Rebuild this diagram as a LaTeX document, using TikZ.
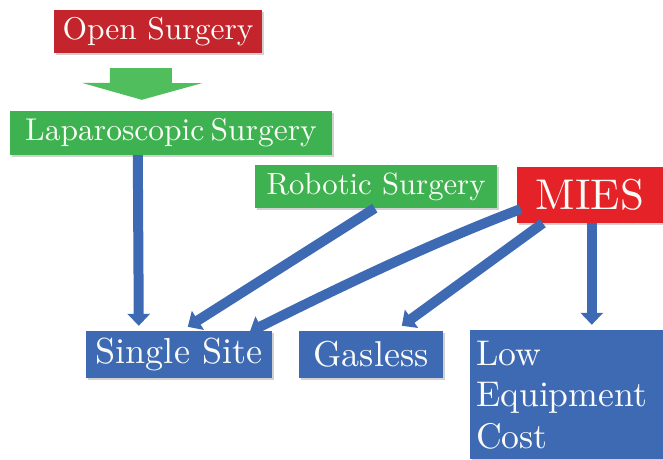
\documentclass[tikz,border=0pt]{standalone}
\usetikzlibrary{arrows.meta,shadows,calc}

\definecolor{opred}{RGB}{196,36,44}
\definecolor{miesred}{RGB}{228,34,40}
\definecolor{lapgreen}{RGB}{62,178,80}
\definecolor{arrgreen}{RGB}{80,190,92}
\definecolor{boxblue}{RGB}{62,106,180}
\definecolor{txt}{RGB}{250,250,246}

% text set in the 10pt design and enlarged
\newcommand\enlarged[2]{\scalebox{#1}{\fontsize{10}{11.6}\selectfont #2}}

\tikzset{
  box/.style={draw=none, text=txt, inner sep=0pt, anchor=center,
    drop shadow={shadow xshift=1.5pt, shadow yshift=-2pt, opacity=0.3, fill=black!60}},
  blarrow/.style={draw=boxblue, line width=10pt,
    -{Triangle[width=22pt,length=12pt]}},
}

\begin{document}
\begin{tikzpicture}[x=1pt,y=-1pt]
  \useasboundingbox (0,0) rectangle (663,459);

  % upper row: surgical approaches
  \node[box, fill=opred, minimum width=208pt, minimum height=43pt]
    (open) at (158,31.5) {\enlarged{3.15}{Open Surgery}};
  \node[box, fill=lapgreen, minimum width=322pt, minimum height=44pt]
    (lap) at (171,133) {\enlarged{3.15}{Laparoscopic\hspace{0.2em}Surgery}};
  \node[box, fill=lapgreen, minimum width=242pt, minimum height=43pt]
    (rob) at (376,186.5) {\enlarged{3.07}{Robotic Surgery}};
  \node[box, fill=miesred, minimum width=146pt, minimum height=56pt]
    (mies) at (590,195) {\enlarged{4.3}{MIES}};

  % lower row: features
  \node[box, fill=boxblue, minimum width=186pt, minimum height=47pt]
    (ss) at (179,354.5) {\enlarged{3.62}{Single Site}};
  \node[box, fill=boxblue, minimum width=144pt, minimum height=47pt]
    (gas) at (371,354.5) {\enlarged{3.6}{Gasless}};
  \node[box, fill=boxblue, minimum width=193pt, minimum height=129pt,
    text width=181pt, align=left]
    (lec) at (566.5,394.5)
    {\raisebox{-4pt}[\height][\depth]{\enlarged{3.57}{\begin{tabular}{@{}l@{}}Low\\Equipment\\Cost\end{tabular}}}};

  % broad green arrow from open to laparoscopic surgery
  \fill[arrgreen]
    ($(open.south west)+(56,15)$) -- ++(62,0) -- ++(0,15) -- ++(30,0)
    -- ($(lap.north west)+(132,-11)$) -- ++(-60,-17) -- ++(28,0) -- cycle;

  % blue connectors
  \draw[blarrow] ($(lap.south west)+(128,0)$) -- ($(ss.north west)+(53,-5)$);
  \draw[blarrow] ($(rob.south west)+(120,0)$) -- ($(ss.north west)+(102,-4)$);
  \draw[blarrow] ($(mies.west)+(4,14)$)
    .. controls +(-90,34) and +(80,-40) .. ($(ss.north west)+(164,1)$);
  \draw[blarrow] ($(mies.south west)+(26,0)$) -- ($(gas.north west)+(103,-5)$);
  \draw[blarrow] ($(mies.south west)+(75,0)$) -- ($(lec.north west)+(122,-5)$);
\end{tikzpicture}
\end{document}
